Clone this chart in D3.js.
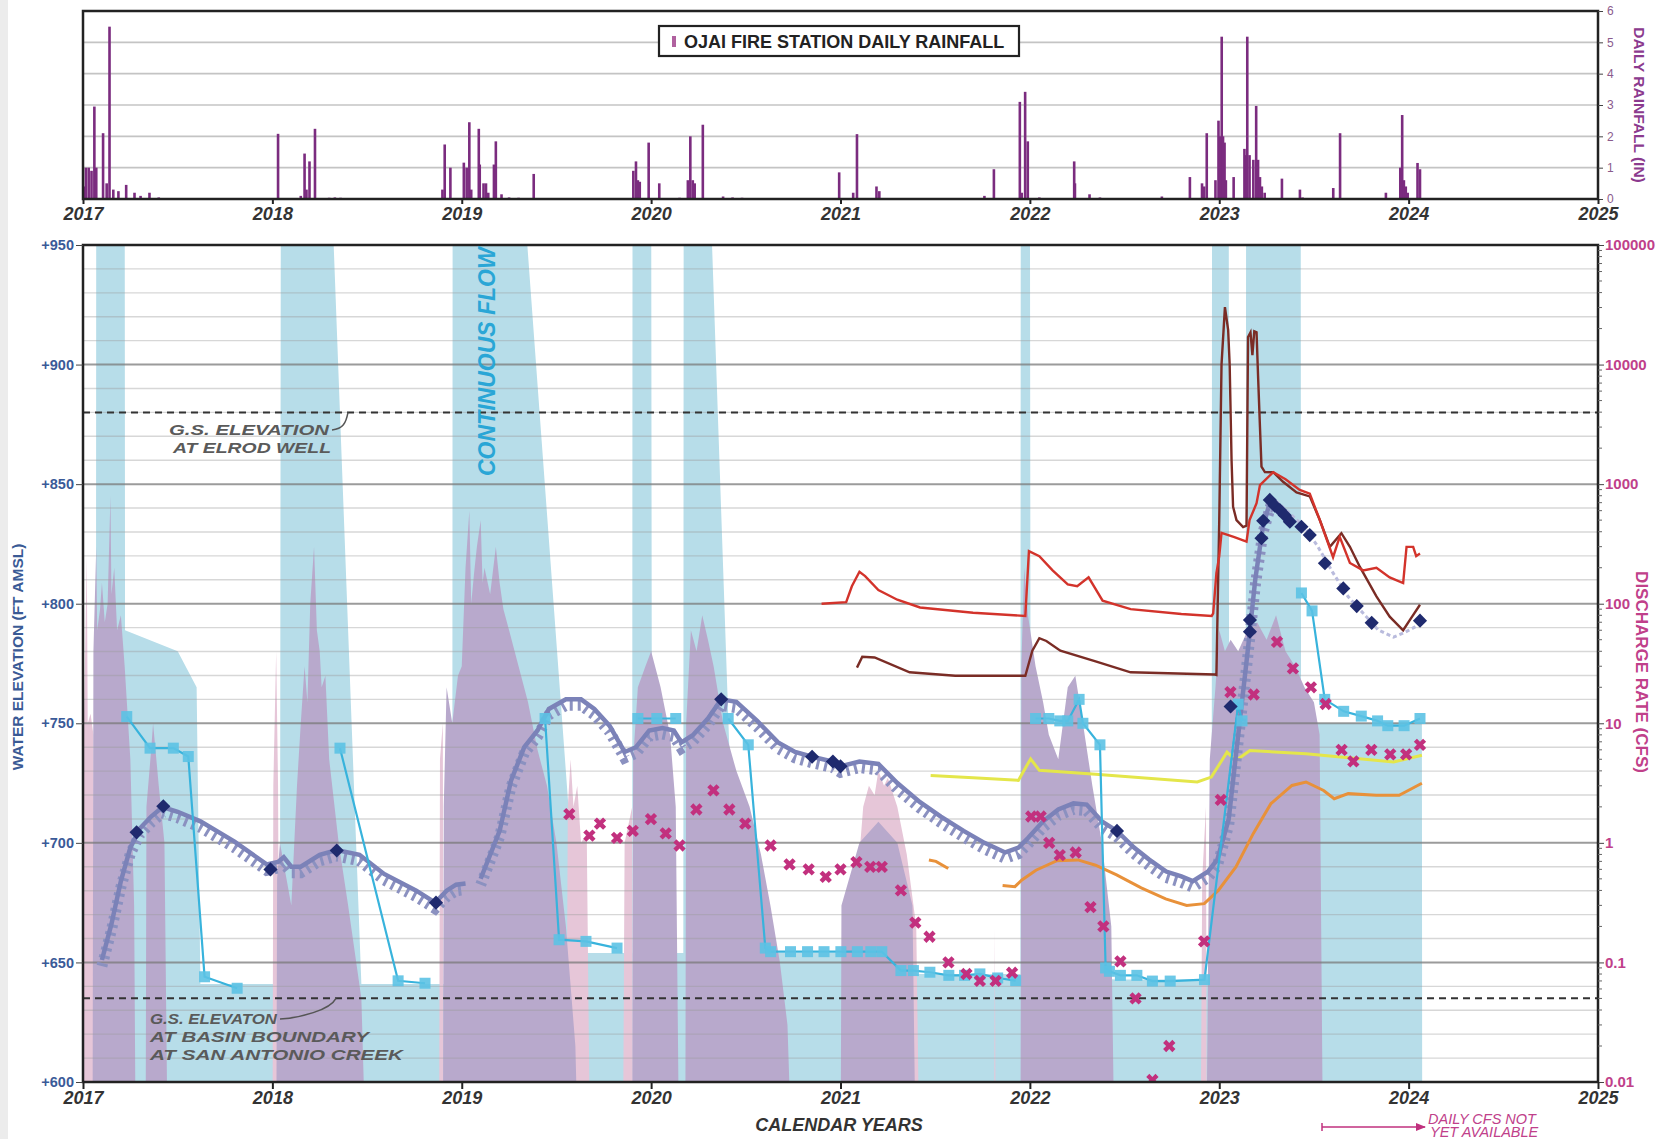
<!DOCTYPE html>
<html>
<head>
<meta charset="utf-8">
<script src="https://cdn.jsdelivr.net/npm/d3@7"></script>
<style>
  body { margin: 0; background: #fff; }
  svg { display: block; }
  text { font-family: "Liberation Sans", Arial, sans-serif; }
</style>
</head>
<body>
<svg id="chart" width="1661" height="1139"></svg>
<script>
// ---------- data (decimal years) ----------
const years = [2017, 2018, 2019, 2020, 2021, 2022, 2023, 2024, 2025];
const ftTicks = [600, 650, 700, 750, 800, 850, 900, 950];
const cfsTicks = [0.01, 0.1, 1, 10, 100, 1000, 10000, 100000];
const cfsLabels = ["0.01", "0.1", "1", "10", "100", "1000", "10000", "100000"];
const rainTicks = [0, 1, 2, 3, 4, 5, 6];

// Ojai fire station daily rainfall (in)
const rainfall = [[2017.005,0.4],[2017.015,1.0],[2017.03,1.0],[2017.045,0.9],[2017.06,2.95],[2017.07,1.0],[2017.106,2.1],
  [2017.125,0.5],[2017.14,5.5],[2017.16,0.3],[2017.187,0.25],[2017.228,0.45],[2017.272,0.2],[2017.304,0.1],[2017.351,0.2],
  [2017.4,0.05],[2017.69,0.03],[2017.88,0.03],[2018.03,2.08],[2018.15,0.1],[2018.17,1.45],[2018.18,0.3],[2018.196,1.2],
  [2018.225,2.24],[2018.3,0.04],[2018.33,0.05],[2018.36,0.04],[2018.42,0.03],[2018.85,0.03],[2018.898,0.3],[2018.91,1.74],
  [2018.94,1.0],[2019.011,1.16],[2019.026,1.0],[2019.04,2.45],[2019.05,0.3],[2019.09,2.24],[2019.095,1.1],[2019.115,0.5],
  [2019.128,0.5],[2019.14,0.2],[2019.17,1.1],[2019.18,1.84],[2019.21,0.15],[2019.25,0.05],[2019.3,0.04],[2019.38,0.8],
  [2019.55,0.02],[2019.7,0.02],[2019.8,0.03],[2019.906,0.9],[2019.92,1.2],[2019.93,0.6],[2019.94,0.55],[2019.987,1.8],
  [2020.043,0.5],[2020.1,0.03],[2020.15,0.04],[2020.194,0.6],[2020.207,2.0],[2020.22,0.6],[2020.23,0.5],[2020.273,2.37],
  [2020.38,0.08],[2020.43,0.05],[2020.48,0.04],[2020.85,0.02],[2020.993,0.85],[2021.067,0.2],[2021.087,2.07],[2021.19,0.4],
  [2021.205,0.25],[2021.38,0.03],[2021.76,0.1],[2021.81,0.95],[2021.947,3.1],[2021.957,0.2],[2021.975,3.42],[2021.989,1.84],
  [2022.05,0.05],[2022.234,1.2],[2022.238,0.5],[2022.315,0.15],[2022.37,0.05],[2022.697,0.08],[2022.75,0.03],[2022.845,0.7],
  [2022.909,0.5],[2022.92,0.4],[2022.934,2.1],[2022.98,0.6],[2022.996,2.5],[2023.005,2.0],[2023.013,5.18],[2023.02,2.0],
  [2023.028,1.8],[2023.035,0.6],[2023.076,0.7],[2023.133,1.6],[2023.14,1.4],[2023.148,5.18],[2023.16,1.4],[2023.18,1.25],
  [2023.195,2.97],[2023.205,1.25],[2023.215,0.7],[2023.225,0.4],[2023.24,0.2],[2023.331,0.65],[2023.426,0.3],[2023.44,0.05],
  [2023.602,0.35],[2023.638,2.1],[2023.7,0.03],[2023.75,0.02],[2023.88,0.2],[2023.956,1.0],[2023.966,2.68],[2023.975,0.6],
  [2023.985,0.4],[2023.995,0.2],[2024.047,1.15],[2024.06,0.95]];

// continuous flow shading (cfs)
const blueFlow = [[2017.0,0.066],[2017.068,0.066],[2017.07,1e6],[2017.22,1e6],[2017.222,60],[2017.5,40],[2017.6,20],[2017.62,0.066],
  [2018.04,0.066],[2018.045,1e6],[2018.3,1e6],[2018.47,0.066],[2018.95,0.066],[2018.952,1e6],[2019.3,1e6],[2019.62,0.12],
  [2019.9,0.12],[2019.902,1e6],[2020.0,1e6],[2020.005,0.12],[2020.17,0.12],[2020.172,1e6],[2020.3,1e6],[2020.45,0.12],
  [2021.0,0.12],[2021.4,0.08],[2021.95,0.08],[2021.952,1e6],[2022.0,1e6],[2022.005,0.08],[2022.45,0.072],[2022.96,0.072],
  [2022.962,1e6],[2023.05,1e6],[2023.052,10],[2023.14,10],[2023.142,1e6],[2023.43,1e6],[2023.432,10],[2024.07,10],[2024.072,0.001]];

// daily discharge, two gauges (cfs)
const pinkFlow = [[2017.0,5],[2017.005,10],[2017.02,250],[2017.025,10],[2017.04,12],[2017.055,8],[2017.06,0.001],
  [2018.0,0.001],[2018.005,3],[2018.02,40],[2018.03,3],[2018.04,0.001],[2018.88,0.001],[2018.885,5],[2018.9,10],[2018.905,0.001],
  [2019.55,0.001],[2019.56,2],[2019.575,5],[2019.59,2],[2019.61,3],[2019.63,1],[2019.66,1.2],[2019.68,0.001],
  [2019.85,0.001],[2019.86,1],[2019.9,2],[2019.905,0.001],[2021.08,0.001],[2021.09,0.5],[2021.12,2],[2021.15,3],[2021.18,2.5],
  [2021.2,4],[2021.23,3],[2021.25,3.5],[2021.3,2],[2021.35,0.8],[2021.4,0.2],[2021.42,0.001],[2021.81,0.001],[2021.815,0.2],
  [2021.82,0.001],[2022.9,0.001],[2022.91,0.5],[2022.93,2],[2022.935,0.001]];
const purpleFlow = [[2017.05,0.001],[2017.055,40],[2017.07,300],[2017.075,60],[2017.09,90],[2017.1,150],[2017.115,70],
  [2017.13,100],[2017.145,800],[2017.15,120],[2017.165,200],[2017.18,60],[2017.2,80],[2017.22,30],[2017.25,5],[2017.27,0.3],
  [2017.28,0.001],[2017.33,0.001],[2017.335,2],[2017.36,6],[2017.37,10],[2017.4,3],[2017.43,1],[2017.45,0.001],
  [2018.02,0.001],[2018.025,0.5],[2018.04,1],[2018.1,0.3],[2018.13,3],[2018.15,10],[2018.17,30],[2018.185,15],[2018.2,100],
  [2018.22,300],[2018.235,60],[2018.25,40],[2018.26,20],[2018.28,25],[2018.3,5],[2018.35,1],[2018.4,0.3],[2018.47,0.05],
  [2018.5,0.001],[2018.9,0.001],[2018.905,2],[2018.92,20],[2018.95,10],[2018.98,25],[2019.0,30],[2019.02,200],[2019.04,600],
  [2019.05,100],[2019.065,180],[2019.08,300],[2019.1,500],[2019.11,150],[2019.12,200],[2019.15,120],[2019.18,300],[2019.2,150],
  [2019.22,90],[2019.25,60],[2019.3,30],[2019.35,15],[2019.4,6],[2019.45,3],[2019.5,1],[2019.55,0.2],[2019.6,0.02],
  [2019.62,0.001],[2019.9,0.001],[2019.905,5],[2019.93,20],[2019.97,30],[2020.0,40],[2020.05,20],[2020.1,8],[2020.13,2],
  [2020.15,0.001],[2020.18,0.001],[2020.185,10],[2020.21,60],[2020.24,40],[2020.27,80],[2020.3,50],[2020.33,30],[2020.38,10],
  [2020.45,4],[2020.52,2],[2020.58,0.8],[2020.63,0.3],[2020.68,0.1],[2020.72,0.03],[2020.75,0.001],[2021.0,0.001],
  [2021.005,0.3],[2021.1,1],[2021.2,1.5],[2021.3,1],[2021.38,0.3],[2021.4,0.001],[2021.95,0.001],[2021.955,30],[2021.97,200],
  [2021.99,80],[2022.03,30],[2022.07,15],[2022.1,8],[2022.15,5],[2022.2,20],[2022.24,25],[2022.28,10],[2022.33,3],[2022.38,1],
  [2022.43,0.2],[2022.45,0.001],[2022.93,0.001],[2022.95,5],[2022.98,20],[2023.0,60],[2023.03,40],[2023.06,50],[2023.1,40],
  [2023.15,60],[2023.2,70],[2023.25,50],[2023.3,80],[2023.35,40],[2023.4,30],[2023.45,20],[2023.5,15],[2023.53,8],[2023.55,0.001]];

// Elrod well transducer water level (ft amsl)
const elrodLevel = [[2017.10,651],[2017.15,666],[2017.2,684],[2017.25,698],[2017.3,706],[2017.36,711],[2017.42,715],[2017.5,713],
  [2017.62,709],[2017.8,700.5],[2017.97,691],[2018.03,692],[2018.06,694],[2018.1,690],[2018.15,690],[2018.25,695],[2018.34,697],
  [2018.46,695],[2018.59,687],[2018.76,680],[2018.86,675],[2018.92,680],[2018.97,682.5],[2019.02,683],null,
  [2019.1,685],[2019.2,705],[2019.26,726],[2019.33,740],[2019.4,747],[2019.46,756],[2019.55,760],[2019.63,760],[2019.7,756],
  [2019.78,749],[2019.86,738],[2019.92,740],[2019.99,747],[2020.06,748],[2020.12,747],[2020.16,742],[2020.22,745],[2020.3,752],
  [2020.37,760],[2020.45,759],[2020.56,751],[2020.67,742],[2020.76,738],[2020.85,736],[2020.96,734],[2021.0,732],[2021.1,734],
  [2021.2,733],[2021.3,725],[2021.42,717],[2021.53,711],[2021.65,705],[2021.76,700],[2021.87,696],[2021.94,698],[2021.99,702],
  [2022.07,709],[2022.15,714],[2022.23,716.5],[2022.3,716],[2022.38,709],[2022.46,705],[2022.55,698],[2022.63,693],[2022.72,688],
  [2022.8,686],[2022.86,684],[2022.94,688],[2022.99,693],[2023.05,710],[2023.1,745],[2023.15,780],[2023.19,810],[2023.23,832],
  [2023.27,843],[2023.3,843]];
const elrodRecent = [[2023.3,843],[2023.37,838],[2023.45,832],[2023.52,824],[2023.6,813],[2023.68,803],[2023.76,796],
  [2023.84,789],[2023.92,786],[2023.98,788],[2024.05,791],[2024.08,793]];
// manual soundings (ft amsl)
const elrodManual = [[2017.283,704.4],[2017.424,715.3],[2017.99,688.9],[2018.34,696.8],[2018.864,675],[2020.37,760],
  [2020.85,736],[2020.96,734],[2021.0,732],[2022.46,705],[2023.06,757],[2023.162,793.2],[2023.162,788.3],[2023.223,827.4],
  [2023.232,834.7],[2023.267,843.4],[2023.293,841],[2023.32,839.2],[2023.346,837],[2023.373,834.3],[2023.434,832.2],
  [2023.478,828.7],[2023.558,816.9],[2023.655,806.4],[2023.726,799],[2023.805,792],[2024.06,792.9]];
// second well (ft amsl), null = break in line
const wellB = [[2017.231,752.8],[2017.354,739.6],[2017.477,739.6],[2017.556,736.1],[2017.642,644],[2017.814,639.2],null,
  [2018.357,739.6],[2018.664,642.3],[2018.806,641.3],null,
  [2019.44,752],[2019.514,659.5],[2019.656,658.8],[2019.82,656],null,
  [2019.93,752],[2020.03,752],[2020.13,752],null,
  [2020.407,752],[2020.513,741],[2020.603,656],[2020.631,654.5],[2020.736,654.5],[2020.826,654.5],[2020.913,654.5],
  [2021.002,654.5],[2021.089,654.5],[2021.16,654.5],[2021.218,654.5],[2021.319,646.6],[2021.385,646.6],[2021.472,645.9],
  [2021.572,644.6],[2021.655,644.6],[2021.736,645.2],[2021.83,643.5],[2021.925,642.4],null,
  [2022.03,752],[2022.1,752],[2022.158,751],[2022.2,751],[2022.26,760],[2022.28,750],[2022.37,741],[2022.40,647.7],
  [2022.42,646.3],[2022.478,644.6],[2022.565,644.6],[2022.647,642.2],[2022.741,642.2],[2022.922,642.8],[2023.1,758],[2023.12,751],null,
  [2023.434,804.5],[2023.49,797],[2023.557,760],[2023.657,755],[2023.75,753],[2023.836,751],[2023.89,749],[2023.976,749],[2024.06,752]];
// discharge measurements (cfs)
const cfsMeasured = [[2019.568,1.74],[2019.674,1.15],[2019.73,1.45],[2019.82,1.1],[2019.903,1.26],[2019.999,1.58],[2020.077,1.2],
  [2020.15,0.95],[2020.239,1.9],[2020.329,2.75],[2020.413,1.9],[2020.497,1.45],[2020.631,0.95],[2020.731,0.66],[2020.832,0.6],
  [2020.922,0.52],[2021.0,0.6],[2021.084,0.69],[2021.157,0.63],[2021.218,0.63],[2021.319,0.4],[2021.395,0.215],[2021.47,0.164],
  [2021.57,0.1],[2021.665,0.08],[2021.736,0.07],[2021.819,0.07],[2021.906,0.082],[2022.007,1.66],[2022.057,1.66],[2022.102,1.0],
  [2022.158,0.79],[2022.242,0.83],[2022.32,0.29],[2022.388,0.2],[2022.478,0.102],[2022.558,0.05],[2022.647,0.0104],
  [2022.736,0.02],[2022.92,0.15],[2023.008,2.29],[2023.059,18.2],[2023.182,17.4],[2023.305,47.9],[2023.389,28.8],
  [2023.484,20],[2023.562,14.5],[2023.646,6.0],[2023.708,4.8],[2023.803,6.0],[2023.903,5.5],[2023.987,5.5],[2024.06,6.6]];
// daily gauge records (cfs)
const gaugeRed = [[2020.90,100],[2021.03,103],[2021.06,140],[2021.1,185],[2021.13,170],[2021.2,130],[2021.3,108],[2021.42,93],
  [2021.7,84],[2021.976,79],[2021.995,275],[2022.05,250],[2022.12,190],[2022.2,145],[2022.25,140],[2022.31,166],[2022.384,106],
  [2022.532,90],[2022.8,82],[2022.96,79],[2022.968,83],[2022.985,180],[2023.0,250],[2023.012,391],[2023.08,360],[2023.144,331],
  [2023.16,500],[2023.197,692],[2023.215,982],[2023.285,1259],[2023.35,1100],[2023.425,895],[2023.478,832],[2023.531,501],
  [2023.601,245],[2023.636,363],[2023.69,219],[2023.76,190],[2023.83,200],[2023.9,166],[2023.971,149],[2023.989,299],
  [2024.024,299],[2024.04,250],[2024.06,263]];
const gaugeBrown = [[2021.087,29.2],[2021.115,36],[2021.18,35.5],[2021.365,26.7],[2021.606,25],[2021.976,25],[2022.013,40.5],
  [2022.05,51.5],[2022.087,48.8],[2022.161,40.5],[2022.347,33],[2022.532,26.7],[2022.977,25.6],[2022.985,25.4],[2023.0,500],
  [2023.012,10000],[2023.03,30200],[2023.047,19500],[2023.055,10000],[2023.065,1585],[2023.073,648],[2023.091,501],
  [2023.126,437],[2023.144,450],[2023.152,17000],[2023.165,18600],[2023.175,12000],[2023.185,19000],[2023.197,18600],
  [2023.205,8000],[2023.215,3000],[2023.223,1400],[2023.241,1260],[2023.285,1259],[2023.337,1047],[2023.408,851],
  [2023.478,790],[2023.531,501],[2023.584,299],[2023.645,389],[2023.69,299],[2023.742,204],[2023.83,115],[2023.9,78],
  [2023.971,60],[2024.006,73],[2024.06,98]];
const gaugeYellow = [[2021.476,3.66],[2021.7,3.5],[2021.939,3.33],[2022.004,5.04],[2022.05,4.04],[2022.347,3.74],[2022.884,3.23],
  [2022.958,3.55],[2023.041,5.73],[2023.088,4.88],[2023.162,5.92],[2023.458,5.55],[2023.921,4.74],[2024.07,5.4]];
const gaugeOrange = [[2021.467,0.72],[2021.504,0.7],[2021.569,0.61],null,[2021.856,0.44],[2021.921,0.43],[2021.958,0.49],
  [2022.032,0.59],[2022.143,0.71],[2022.254,0.72],[2022.347,0.65],[2022.458,0.54],[2022.588,0.42],[2022.717,0.34],
  [2022.828,0.30],[2022.921,0.31],[2022.995,0.40],[2023.088,0.63],[2023.18,1.2],[2023.273,2.13],[2023.384,3.02],
  [2023.458,3.23],[2023.551,2.74],[2023.607,2.34],[2023.681,2.58],[2023.829,2.5],[2023.95,2.5],[2024.07,3.15]];

const groundElrod = 880, groundBoundary = 635;

// ---------- layout ----------
const svg = d3.select("#chart");
const left = 83, right = 1598;
const rainTop = 11, rainBottom = 199;
const mainTop = 245, mainBottom = 1082;

const x = d3.scaleLinear().domain([2017, 2025]).range([left, right]);
const yRain = d3.scaleLinear().domain([0, 6]).range([rainBottom, rainTop]);
const yFt = d3.scaleLinear().domain([600, 950]).range([mainBottom, mainTop]);
const yCfs = d3.scaleLog().domain([0.01, 100000]).range([mainBottom, mainTop]);

svg.append("rect").attr("x", 0).attr("y", 0).attr("width", 8).attr("height", 1139).attr("fill", "#ececec");

const defs = svg.append("defs");
defs.append("clipPath").attr("id", "clipMain").append("rect")
  .attr("x", left).attr("y", mainTop).attr("width", right - left).attr("height", mainBottom - mainTop);
defs.append("marker").attr("id", "arrowHead").attr("viewBox", "0 0 10 10").attr("refX", 9).attr("refY", 5)
  .attr("markerWidth", 7).attr("markerHeight", 7).attr("orient", "auto")
  .append("path").attr("d", "M0,1L10,5L0,9Z").attr("fill", "#c0307e");

// ---------- rainfall panel ----------
const rainG = svg.append("g");
rainG.selectAll(".rgrid").data(rainTicks.slice(1, -1)).join("line")
  .attr("x1", left).attr("x2", right).attr("y1", d => yRain(d)).attr("y2", d => yRain(d))
  .attr("stroke", "#c4c4c4").attr("stroke-width", 1.6);
rainG.selectAll(".rbar").data(rainfall).join("rect")
  .attr("x", d => x(d[0]) - 1.3).attr("width", 2.6)
  .attr("y", d => yRain(d[1])).attr("height", d => yRain(0) - yRain(d[1]))
  .attr("fill", "#7b2c7f");
rainG.append("rect").attr("x", left).attr("y", rainTop).attr("width", right - left).attr("height", rainBottom - rainTop)
  .attr("fill", "none").attr("stroke", "#222").attr("stroke-width", 2.5);

const rainAxis = rainG.append("g").attr("transform", `translate(${right},0)`)
  .call(d3.axisRight(yRain).tickValues(rainTicks).tickSize(5).tickFormat(d3.format("d")));
rainAxis.select(".domain").remove();
rainAxis.selectAll("line").attr("stroke", "#444");
rainAxis.selectAll("text").attr("fill", "#8a5a8c").attr("font-size", 12).attr("x", 9);

const rainX = rainG.append("g").attr("transform", `translate(0,${rainBottom})`)
  .call(d3.axisBottom(x).tickValues(years).tickSize(5).tickFormat(d3.format("d")));
rainX.select(".domain").remove();
rainX.selectAll("line").attr("stroke", "#222").attr("stroke-width", 2);
rainX.selectAll("text").attr("fill", "#333").attr("font-size", 18).attr("font-weight", "bold")
  .attr("font-style", "italic").attr("y", 8);

rainG.append("text").attr("transform", `translate(1634,${(rainTop + rainBottom) / 2}) rotate(90)`)
  .attr("text-anchor", "middle").attr("font-size", 15.5).attr("font-weight", "bold").attr("fill", "#8b3a8e")
  .text("DAILY RAINFALL (IN)");

// legend
const lg = rainG.append("g");
lg.append("rect").attr("x", 659).attr("y", 26).attr("width", 360).attr("height", 30)
  .attr("fill", "#fff").attr("stroke", "#222").attr("stroke-width", 2.2);
lg.append("rect").attr("x", 672).attr("y", 36).attr("width", 4).attr("height", 11).attr("fill", "#b0619f");
lg.append("text").attr("x", 684).attr("y", 48).attr("font-size", 18).attr("font-weight", "bold").attr("fill", "#222")
  .text("OJAI FIRE STATION DAILY RAINFALL");

// ---------- main panel ----------
const plot = svg.append("g").attr("clip-path", "url(#clipMain)");

const areaCfs = d3.area().x(d => x(d[0])).y0(mainBottom + 5).y1(d => yCfs(d[1]));
plot.append("path").datum(blueFlow).attr("d", areaCfs).attr("fill", "#b7dde9");
plot.append("path").datum(pinkFlow).attr("d", areaCfs).attr("fill", "#e6c6d8");
plot.append("path").datum(purpleFlow).attr("d", areaCfs).attr("fill", "#b8a9cc");

// grid
plot.selectAll(".minor").data(d3.range(600, 951, 10).filter(v => v % 50 !== 0)).join("line")
  .attr("x1", left).attr("x2", right).attr("y1", d => yFt(d)).attr("y2", d => yFt(d))
  .attr("stroke", "#9a9a9a").attr("stroke-opacity", 0.4).attr("stroke-width", 1.4);
plot.selectAll(".major").data(ftTicks).join("line")
  .attr("x1", left).attr("x2", right).attr("y1", d => yFt(d)).attr("y2", d => yFt(d))
  .attr("stroke", "#7a7a7a").attr("stroke-opacity", 0.75).attr("stroke-width", 2);

// ground surface references
plot.selectAll(".gs").data([groundElrod, groundBoundary]).join("line")
  .attr("x1", left).attr("x2", right).attr("y1", d => yFt(d)).attr("y2", d => yFt(d))
  .attr("stroke", "#333").attr("stroke-width", 2).attr("stroke-dasharray", "7,5");

// gauge lines
const lineCfs = d3.line().defined(d => d !== null).x(d => x(d[0])).y(d => yCfs(d[1]));
plot.append("path").datum(gaugeYellow).attr("d", lineCfs).attr("fill", "none").attr("stroke", "#e4e64a").attr("stroke-width", 3);
plot.append("path").datum(gaugeOrange).attr("d", lineCfs).attr("fill", "none").attr("stroke", "#e8913a").attr("stroke-width", 3);
plot.append("path").datum(gaugeBrown).attr("d", lineCfs).attr("fill", "none").attr("stroke", "#7a2c25").attr("stroke-width", 2.4);
plot.append("path").datum(gaugeRed).attr("d", lineCfs).attr("fill", "none").attr("stroke", "#d3332b").attr("stroke-width", 2.4);

// water levels (sawtooth drawdown marks drawn as a dashed offset copy)
const lineFt = d3.line().defined(d => d !== null).x(d => x(d[0])).y(d => yFt(d[1]));
plot.append("path").datum(elrodRecent).attr("d", lineFt).attr("fill", "none").attr("stroke", "#b9bbdd")
  .attr("stroke-width", 3).attr("stroke-dasharray", "4,3");
plot.append("path").datum(elrodLevel).attr("d", lineFt).attr("fill", "none").attr("stroke", "#8b91c0")
  .attr("stroke-width", 11).attr("stroke-dasharray", "3,5").attr("transform", "translate(0,6)");
plot.append("path").datum(elrodLevel).attr("d", lineFt).attr("fill", "none").attr("stroke", "#7b82b8")
  .attr("stroke-width", 4.5);

plot.append("path").datum(wellB).attr("d", lineFt).attr("fill", "none").attr("stroke", "#38b3dc").attr("stroke-width", 2.2);
plot.selectAll(".sq").data(wellB.filter(d => d !== null)).join("rect")
  .attr("x", d => x(d[0]) - 5.5).attr("y", d => yFt(d[1]) - 5.5).attr("width", 11).attr("height", 11)
  .attr("fill", "#5cc2e4").attr("fill-opacity", 0.9);

plot.selectAll(".xm").data(cfsMeasured).join("path")
  .attr("transform", d => `translate(${x(d[0])},${yCfs(d[1])}) rotate(45)`)
  .attr("d", d3.symbol(d3.symbolCross, 95))
  .attr("fill", "#c2307e");

plot.selectAll(".dm").data(elrodManual).join("path")
  .attr("transform", d => `translate(${x(d[0])},${yFt(d[1])}) rotate(45)`)
  .attr("d", d3.symbol(d3.symbolSquare, 100))
  .attr("fill", "#1f2a6e");

// frame
svg.append("rect").attr("x", left).attr("y", mainTop).attr("width", right - left).attr("height", mainBottom - mainTop)
  .attr("fill", "none").attr("stroke", "#222").attr("stroke-width", 2.5);

// axes
const leftAxis = svg.append("g").attr("transform", `translate(${left},0)`)
  .call(d3.axisLeft(yFt).tickValues(ftTicks).tickSize(7).tickFormat(d => "+" + d));
leftAxis.select(".domain").remove();
leftAxis.selectAll("line").attr("stroke", "#444");
leftAxis.selectAll("text").attr("fill", "#3a5a98").attr("font-size", 14.5).attr("font-weight", "bold").attr("x", -9);

const rightAxis = svg.append("g").attr("transform", `translate(${right},0)`)
  .call(d3.axisRight(yCfs).tickValues(cfsTicks).tickSize(6).tickFormat((d, i) => cfsLabels[i]));
rightAxis.select(".domain").remove();
rightAxis.selectAll("line").attr("stroke", "#444");
rightAxis.selectAll("text").attr("fill", "#c0408a").attr("font-size", 15).attr("font-weight", "bold").attr("x", 7);
const minorCfs = yCfs.ticks().filter(v => !cfsTicks.includes(v));
svg.append("g").selectAll("line").data(minorCfs).join("line")
  .attr("x1", right).attr("x2", right + 4).attr("y1", d => yCfs(d)).attr("y2", d => yCfs(d))
  .attr("stroke", "#666").attr("stroke-width", 1);

const bottomAxis = svg.append("g").attr("transform", `translate(0,${mainBottom})`)
  .call(d3.axisBottom(x).tickValues(years).tickSize(7).tickFormat(d3.format("d")));
bottomAxis.select(".domain").remove();
bottomAxis.selectAll("line").attr("stroke", "#222").attr("stroke-width", 2);
bottomAxis.selectAll("text").attr("fill", "#333").attr("font-size", 18).attr("font-weight", "bold")
  .attr("font-style", "italic").attr("y", 9);

svg.append("text").attr("x", 839).attr("y", 1131).attr("text-anchor", "middle").attr("font-size", 18)
  .attr("font-weight", "bold").attr("font-style", "italic").attr("fill", "#333").text("CALENDAR YEARS");
svg.append("text").attr("transform", `translate(23,657) rotate(-90)`).attr("text-anchor", "middle")
  .attr("font-size", 15.5).attr("font-weight", "bold").attr("fill", "#3a5a95").text("WATER ELEVATION (FT AMSL)");
svg.append("text").attr("transform", `translate(1636,672) rotate(90)`).attr("text-anchor", "middle")
  .attr("font-size", 17).attr("font-weight", "bold").attr("fill", "#c0408a").text("DISCHARGE RATE (CFS)");

// annotations (glyphs stretched to the reference widths, lines kept tight)
const note = (g, xPos, yPos, width, label) => g.append("text").attr("x", xPos).attr("y", yPos)
  .attr("font-size", 15.5).attr("font-weight", "bold").attr("font-style", "italic").attr("fill", "#5a5a5a")
  .attr("textLength", width).attr("lengthAdjust", "spacingAndGlyphs").text(label);
const gs1 = svg.append("g");
note(gs1, 169, 435, 160, "G.S. ELEVATION");
note(gs1, 173, 453, 158, "AT ELROD WELL");
gs1.append("path").attr("d", `M332,430 C343,429 346,423 348,${yFt(groundElrod)}`).attr("fill", "none")
  .attr("stroke", "#555").attr("stroke-width", 1.5);

const gs2 = svg.append("g");
note(gs2, 150, 1024, 127, "G.S. ELEVATON");
note(gs2, 150, 1042, 219, "AT BASIN BOUNDARY");
note(gs2, 150, 1060, 253, "AT SAN ANTONIO CREEK");
gs2.append("path").attr("d", `M280,1019 C300,1018 330,1010 336,${yFt(groundBoundary)}`).attr("fill", "none")
  .attr("stroke", "#555").attr("stroke-width", 1.5);

svg.append("text").attr("transform", "translate(495,476) rotate(-90)").attr("font-size", 23)
  .attr("font-weight", "bold").attr("font-style", "italic").attr("fill", "#2aa6d6").text("CONTINUOUS FLOW");

svg.append("line").attr("x1", 1322).attr("x2", 1425).attr("y1", 1127).attr("y2", 1127)
  .attr("stroke", "#c0307e").attr("stroke-width", 1.5).attr("marker-end", "url(#arrowHead)");
svg.append("line").attr("x1", 1322).attr("x2", 1322).attr("y1", 1123).attr("y2", 1131)
  .attr("stroke", "#c0307e").attr("stroke-width", 1.5);
svg.append("text").attr("x", 1428).attr("y", 1124).attr("font-size", 14.5).attr("font-style", "italic")
  .attr("fill", "#c0408a").text("DAILY CFS NOT");
svg.append("text").attr("x", 1430).attr("y", 1137).attr("font-size", 14.5).attr("font-style", "italic")
  .attr("fill", "#c0408a").text("YET AVAILABLE");
</script>
</body>
</html>
